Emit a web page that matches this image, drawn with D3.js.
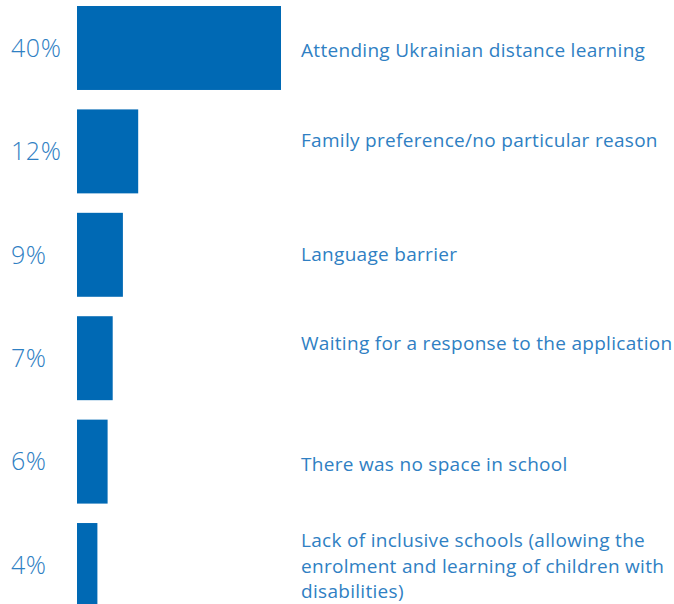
<!DOCTYPE html>
<html>
<head>
<meta charset="utf-8">
<script src="https://cdn.jsdelivr.net/npm/d3@7"></script>
<style>
  html, body { margin: 0; padding: 0; background: #ffffff; }
  svg { display: block; }
</style>
</head>
<body>
<div id="chart"></div>
<script>
// Reasons children are not enrolled in local schools (share of responses)
const reasons = [
  ["Attending Ukrainian distance learning"],
  ["Family preference/no particular reason"],
  ["Language barrier"],
  ["Waiting for a response to the application"],
  ["There was no space in school"],
  ["Lack of inclusive schools (allowing the", "enrolment and learning of children with", "disabilities)"]
];
const shares = [40, 12, 9, 7, 6, 4];
const shareLabels = ["40%", "12%", "9%", "7%", "6%", "4%"];

// Vertical nudges for the text beside each bar (layout only)
const labelNudge = [2, -11, 0, -15, 3, 1];

const width = 674, height = 604;
const barColor = "#0069b4";
const textColor = "#2f80c3";
const fontFamily = "'Open Sans', sans-serif";

const svg = d3.select("#chart").append("svg")
  .attr("width", width)
  .attr("height", height);

const idx = d3.range(shares.length);

const y = d3.scaleBand()
  .domain(idx)
  .range([6, 607])
  .paddingInner(0.188)
  .paddingOuter(0);

const x = d3.scaleLinear()
  .domain([0, 40])
  .range([77, 281]);

svg.append("g").selectAll("rect")
  .data(idx)
  .join("rect")
  .attr("x", x(0))
  .attr("y", i => y(i))
  .attr("width", i => x(shares[i]) - x(0))
  .attr("height", y.bandwidth())
  .attr("fill", barColor);

svg.append("g").selectAll("text")
  .data(idx)
  .join("text")
  .attr("x", 11)
  .attr("y", i => y(i) + y.bandwidth() / 2)
  .attr("dy", "0.35em")
  .attr("fill", textColor)
  .style("font-family", fontFamily)
  .style("font-weight", 300)
  .style("font-size", "25px")
  .style("letter-spacing", "0.6px")
  .text(i => shareLabels[i]);

const lineHeight = 25.5;
const cat = svg.append("g").selectAll("text")
  .data(idx)
  .join("text")
  .attr("fill", textColor)
  .style("font-family", fontFamily)
  .style("font-weight", 400)
  .style("font-size", "19px")
  .style("letter-spacing", "0.3px")
  .attr("transform", i => {
    const n = reasons[i].length;
    const cy = y(i) + y.bandwidth() / 2 + labelNudge[i] - (n - 1) * lineHeight / 2;
    return `translate(301,${cy})`;
  });

cat.selectAll("tspan")
  .data(i => reasons[i])
  .join("tspan")
  .attr("x", 0)
  .attr("y", (d, j) => j * lineHeight)
  .attr("dy", "0.35em")
  .text(d => d);
</script>
</body>
</html>
